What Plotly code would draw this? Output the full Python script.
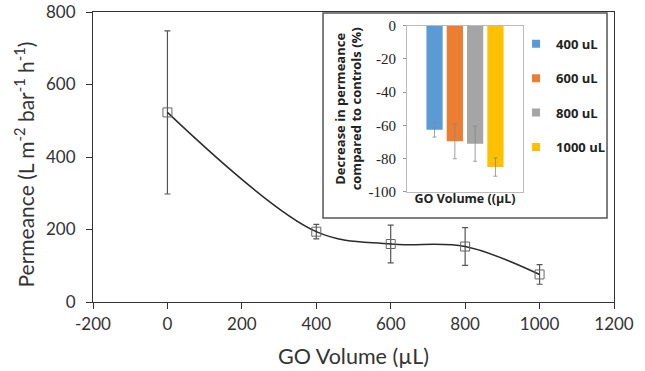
import plotly.graph_objects as go

# Main series
go_volume = [0, 400, 600, 800, 1000]
permeance = [523, 194, 160, 153, 76]
perm_err = [225, 20, 52, 52, 27]
x_ticks = [-200, 0, 200, 400, 600, 800, 1000, 1200]
x_tick_labels = ["-200", "0", "200", "400", "600", "800", "1000", "1200"]
y_ticks = [0, 200, 400, 600, 800]
y_tick_labels = ["0", "200", "400", "600", "800"]

# Inset series
inset_labels = ["400 uL", "600 uL", "800 uL", "1000 uL"]
inset_values = [-62.5, -69.5, -71, -85]
inset_err = [4.5, 10.5, 10.5, 5.5]
inset_colors = ["#5b9bd5", "#ed7d31", "#a5a5a5", "#ffc000"]
inset_y_ticks = [0, -20, -40, -60, -80, -100]
inset_y_tick_labels = ["0", "-20", "-40", "-60", "-80", "-100"]

font_main = "Lato"

fig = go.Figure()

fig.add_trace(go.Scatter(
    x=go_volume, y=permeance, mode="lines+markers",
    line=dict(color="#2b2b2b", width=1.5, shape="spline", smoothing=1.0),
    marker=dict(symbol="square-open", size=9, color="#666666", line=dict(width=1)),
    error_y=dict(type="data", array=perm_err, color="#555555", thickness=1.2, width=3),
    showlegend=False, xaxis="x", yaxis="y",
))

for lab, val, err, col in zip(inset_labels, inset_values, inset_err, inset_colors):
    fig.add_trace(go.Bar(
        x=["GO"], y=[val], name=lab, marker=dict(color=col, line=dict(width=0)),
        error_y=dict(type="data", array=[err], color="#888888", thickness=0.8, width=2),
        xaxis="x2", yaxis="y2", showlegend=False,
    ))

# legend entries (small square keys like the original)
for lab, col in zip(inset_labels, inset_colors):
    fig.add_trace(go.Scatter(
        x=[None], y=[None], mode="markers", name=lab,
        marker=dict(symbol="square", size=8, color=col),
        xaxis="x2", yaxis="y2", legendgroup=lab, showlegend=True,
    ))

fig.update_layout(
    width=645, height=371,
    margin=dict(l=93, r=31, t=12, b=69, autoexpand=False),
    paper_bgcolor="white", plot_bgcolor="white",
    font=dict(family=font_main, color="#333333"),
    barmode="group", bargap=0.3, bargroupgap=0.2,
    xaxis=dict(
        domain=[0, 1], range=[-200, 1200], tickvals=x_ticks, ticktext=x_tick_labels,
        showgrid=False, zeroline=False, automargin=False,
        showline=True, linecolor="#333333", linewidth=1.2, mirror=True,
        ticks="outside", ticklen=6, tickcolor="#333333",
        tickfont=dict(size=17, family=font_main, color="#333333"),
        title=dict(text="GO Volume (µL)", font=dict(size=21.5, family=font_main, color="#333333"), standoff=16),
    ),
    yaxis=dict(
        domain=[0, 1], range=[0, 800], tickvals=y_ticks, ticktext=y_tick_labels,
        showgrid=False, zeroline=False, automargin=False,
        showline=True, linecolor="#333333", linewidth=1.2, mirror=True,
        ticks="outside", ticklen=6, tickcolor="#333333", ticklabelstandoff=7,
        tickfont=dict(size=17, family=font_main, color="#333333"),
    ),
    xaxis2=dict(
        domain=[0.6027, 0.8253], anchor="y2", showticklabels=False, automargin=False,
        showgrid=False, zeroline=False, showline=True, linecolor="#bbbbbb", linewidth=1, mirror=True,
        ticks="",
        title=dict(text="<b>GO Volume ((µL)</b>", font=dict(size=12.5, family="Open Sans", color="#222222"), standoff=2),
    ),
    yaxis2=dict(
        domain=[0.3793, 0.9528], anchor="x2", range=[-100, 0], automargin=False,
        tickvals=inset_y_ticks, ticktext=inset_y_tick_labels,
        showgrid=False, zeroline=False, showline=True, linecolor="#bbbbbb", linewidth=1, mirror=True,
        ticks="outside", ticklen=3, tickcolor="#999999", ticklabelstandoff=4,
        tickfont=dict(size=15, family="Liberation Serif", color="#222222"),
        title=dict(text="<b>Decrease in permeance<br>compared to controls (%)</b>",
                   font=dict(size=13, family="Open Sans", color="#222222"), standoff=3),
    ),
    legend=dict(
        x=0.812, y=0.942, xanchor="left", yanchor="top",
        bgcolor="rgba(0,0,0,0)", tracegroupgap=14.5,
        font=dict(size=13, family="Open Sans", color="#222222", weight="bold"),
        itemwidth=30,
    ),
    annotations=[
        dict(text="Permeance (L m<sup>-2</sup> bar<sup>-1</sup> h<sup>-1</sup>)",
             xref="paper", yref="paper", x=-0.132, y=0.475, xanchor="center", yanchor="middle",
             textangle=-90, showarrow=False,
             font=dict(size=21, family=font_main, color="#333333")),
    ],
    shapes=[
        dict(type="rect", xref="paper", yref="paper", x0=0.4415, x1=0.9866, y0=0.2897, y1=0.9966,
             fillcolor="white", line=dict(color="#555555", width=1.5), layer="below"),
        dict(type="rect", xref="x2 domain", yref="y2 domain", x0=0, x1=1, y0=0, y1=1,
             fillcolor="#eaf3fa", line=dict(width=0), layer="below"),
    ],
)

fig.write_html("out.html", config={"displayModeBar": False},
               post_script="document.body.style.margin='0';")
